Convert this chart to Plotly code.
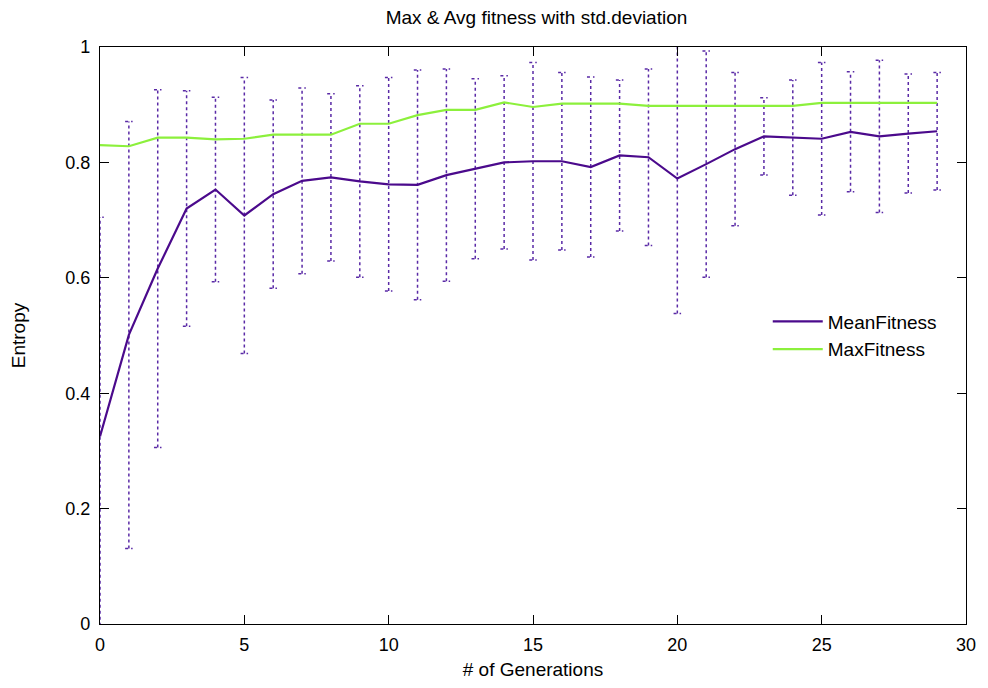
import plotly.graph_objects as go

generations = list(range(30))
mean_fitness = [0.325, 0.501, 0.616, 0.720, 0.753, 0.708, 0.745, 0.768, 0.774, 0.767,
                0.762, 0.761, 0.778, 0.789, 0.800, 0.802, 0.802, 0.792, 0.812, 0.809,
                0.772, 0.797, 0.823, 0.845, 0.843, 0.841, 0.853, 0.845, 0.850, 0.854]
std_dev = [0.380, 0.370, 0.310, 0.204, 0.160, 0.239, 0.163, 0.161, 0.145, 0.166,
           0.185, 0.199, 0.184, 0.156, 0.150, 0.171, 0.154, 0.156, 0.131, 0.153,
           0.234, 0.196, 0.133, 0.067, 0.100, 0.132, 0.104, 0.132, 0.103, 0.102]
max_fitness = [0.830, 0.828, 0.843, 0.843, 0.840, 0.841, 0.848, 0.848, 0.848, 0.867,
               0.867, 0.882, 0.891, 0.891, 0.904, 0.896, 0.902, 0.902, 0.902, 0.898,
               0.898, 0.898, 0.898, 0.898, 0.898, 0.903, 0.903, 0.903, 0.903, 0.903]

MEAN_COLOR = "#4b0a8c"
ERR_COLOR = "#5a2aa6"
MAX_COLOR = "#8cf03c"
CAP = 0.13
FONT = "Liberation Sans, Arial, Helvetica, sans-serif"

# Build error bar paths (vertical line + caps) from data
ex, ey = [], []
for g, m, s in zip(generations, mean_fitness, std_dev):
    lo, hi = m - s, m + s
    ex += [g, g, None, g - CAP, g + CAP, None, g - CAP, g + CAP, None]
    ey += [lo, hi, None, lo, lo, None, hi, hi, None]

fig = go.Figure()
fig.add_trace(go.Scatter(x=ex, y=ey, mode="lines", showlegend=False, hoverinfo="skip",
                         line=dict(color=ERR_COLOR, width=1.5, dash="dot")))
fig.add_trace(go.Scatter(x=generations, y=mean_fitness, mode="lines", name="MeanFitness",
                         line=dict(color=MEAN_COLOR, width=2.2)))
fig.add_trace(go.Scatter(x=generations, y=max_fitness, mode="lines", name="MaxFitness",
                         line=dict(color=MAX_COLOR, width=2.2)))

axis_common = dict(showline=True, linecolor="black", linewidth=1.3, mirror="ticks",
                   ticks="inside", ticklen=9, tickwidth=1.3, tickcolor="black",
                   showgrid=False, zeroline=False,
                   tickfont=dict(family=FONT, size=18, color="black"))

fig.update_layout(
    width=988, height=688,
    margin=dict(l=100, r=19, t=47, b=57),
    paper_bgcolor="white", plot_bgcolor="white",
    title=dict(text="Max & Avg fitness with std.deviation", x=0.543, xanchor="center",
               y=0.975, yanchor="middle",
               font=dict(family=FONT, size=19, color="black")),
    xaxis=dict(range=[0, 30], tickvals=[0, 5, 10, 15, 20, 25, 30], ticklabelstandoff=4,
               title=dict(text="# of Generations", font=dict(family=FONT, size=19, color="black"), standoff=8),
               **axis_common),
    yaxis=dict(range=[0, 1], tickvals=[0, 0.2, 0.4, 0.6, 0.8, 1],
               ticktext=["0", "0.2", "0.4", "0.6", "0.8", "1"], ticklabelstandoff=5,
               title=dict(text="Entropy", font=dict(family=FONT, size=19, color="black"), standoff=34),
               **axis_common),
    legend=dict(x=0.972, y=0.5, xanchor="right", yanchor="middle",
                bgcolor="rgba(0,0,0,0)", font=dict(family=FONT, size=19, color="black"),
                tracegroupgap=0, itemwidth=50),
)

fig.write_html("out.html")
